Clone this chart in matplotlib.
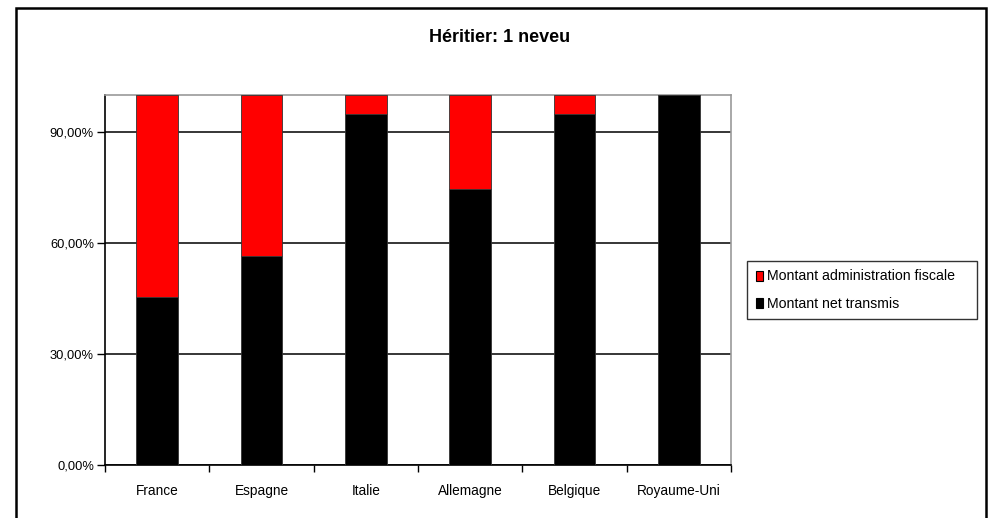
import matplotlib

matplotlib.use("Agg")
import matplotlib.pyplot as plt
from matplotlib.patches import Patch, Rectangle
from matplotlib.ticker import FixedLocator, FuncFormatter

plt.rcParams["font.family"] = ["Liberation Sans", "DejaVu Sans"]

countries = ["France", "Espagne", "Italie", "Allemagne", "Belgique", "Royaume-Uni"]
net_transmis = [45.5, 56.4, 95.0, 74.7, 95.0, 100.0]
admin_fiscale = [54.5, 43.6, 5.0, 25.3, 5.0, 0.0]
y_ticks = [0, 30, 60, 90]

W, H = 999, 518
fig = plt.figure(figsize=(W / 100, H / 100), dpi=100, facecolor="white")

# outer chart frame (bottom edge runs off the picture)
fig.patches.append(Rectangle((16 / W, -0.05), 970 / W, 1.05 - 7.5 / H,
                             transform=fig.transFigure, fill=False,
                             edgecolor="black", linewidth=1.8, zorder=0))

ax = fig.add_axes([105 / W, 1 - 465 / H, 626 / W, 370 / H])
x = range(len(countries))
ax.bar(x, net_transmis, width=0.4, color="black", edgecolor="#333333", linewidth=0.6, zorder=3)
ax.bar(x, admin_fiscale, bottom=net_transmis, width=0.4, color="#FF0000",
       edgecolor="#333333", linewidth=0.6, zorder=3)

ax.set_xlim(-0.5, len(countries) - 0.5)
ax.set_ylim(0, 100)
ax.yaxis.set_major_locator(FixedLocator(y_ticks))
ax.yaxis.set_major_formatter(FuncFormatter(lambda v, _: f"{v:.2f}%".replace(".", ",")))
ax.grid(axis="y", color="black", linewidth=1.1, zorder=1)

ax.xaxis.set_major_locator(FixedLocator([i - 0.5 for i in range(len(countries) + 1)]))
ax.xaxis.set_major_formatter(FuncFormatter(lambda v, _: ""))
ax.xaxis.set_minor_locator(FixedLocator(list(x)))
ax.set_xticklabels(countries, minor=True)
ax.tick_params(axis="x", which="minor", length=0, pad=14, labelsize=9.8)
ax.tick_params(axis="x", which="major", length=5, width=1, direction="out")
ax.tick_params(axis="y", length=6, width=1, direction="out", labelsize=9.3, pad=2)

for side in ("top", "right"):
    ax.spines[side].set_color("#999999")
    ax.spines[side].set_linewidth(1.2)
for side in ("left", "bottom"):
    ax.spines[side].set_color("black")
    ax.spines[side].set_linewidth(1.2)

fig.text(500 / W, 1 - 37 / H, "Héritier: 1 neveu", ha="center", va="center",
         fontsize=13, fontweight="bold")

handles = [Patch(facecolor="#FF0000", edgecolor="black", linewidth=0.8),
           Patch(facecolor="black", edgecolor="black", linewidth=0.8)]
leg = fig.legend(handles, ["Montant administration fiscale", "Montant net transmis"],
                 loc="upper left", bbox_to_anchor=(747 / W, 1 - 320 / H, 230 / W, 59 / H),
                 mode="expand", frameon=True, fancybox=False, fontsize=10.2,
                 handlelength=0.5, handleheight=0.7, handletextpad=0.3,
                 borderpad=0.6, labelspacing=0.95, borderaxespad=0)
leg.get_frame().set_edgecolor("black")
leg.get_frame().set_linewidth(1.0)

fig.savefig("out.png", dpi=100, facecolor="white")
